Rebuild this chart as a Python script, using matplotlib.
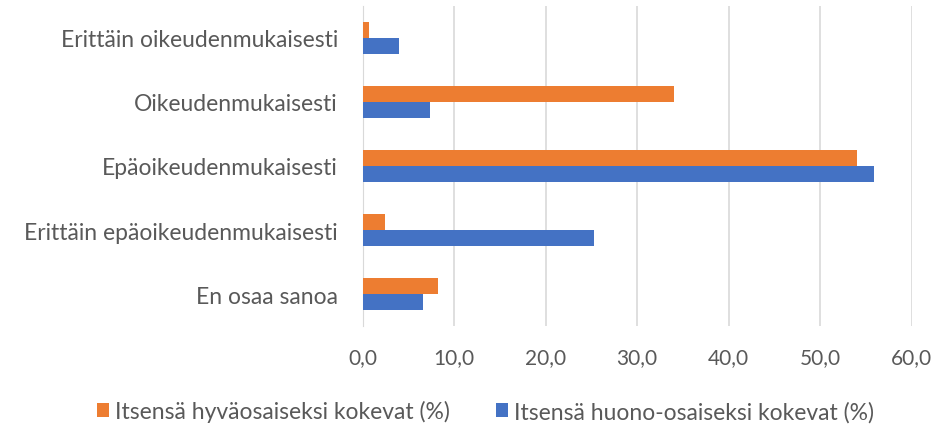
import matplotlib
matplotlib.use('Agg')
import matplotlib.pyplot as plt
import numpy as np

categories = ['Erittäin oikeudenmukaisesti', 'Oikeudenmukaisesti', 'Epäoikeudenmukaisesti',
              'Erittäin epäoikeudenmukaisesti', 'En osaa sanoa']
hyva = [0.7, 34.0, 54.0, 2.4, 8.2]
huono = [4.0, 7.3, 55.9, 25.3, 6.6]
series_names = ['Itsensä hyväosaiseksi kokevat (%)', 'Itsensä huono-osaiseksi kokevat (%)']
xticks = [0, 10, 20, 30, 40, 50, 60]

plt.rcParams['font.family'] = ['Lato', 'DejaVu Sans']
grey = '#595959'

fig = plt.figure(figsize=(9.35, 4.27), dpi=100)
ax = fig.add_axes([0.388, 0.234, 0.587, 0.75])

y = np.arange(len(categories))
h = 0.25
ax.barh(y - h / 2, hyva, height=h, color='#ED7D31', label=series_names[0], zorder=3)
ax.barh(y + h / 2, huono, height=h, color='#4472C4', label=series_names[1], zorder=3)

ax.set_ylim(len(categories) - 0.5, -0.5)
ax.set_xlim(0, 60)
ax.set_yticks(y)
ax.set_yticklabels(categories, fontsize=16.5, color=grey)
ax.set_xticks(xticks)
ax.set_xticklabels([f'{t:.1f}'.replace('.', ',') for t in xticks], fontsize=15, color=grey)
ax.tick_params(axis='both', length=0)
ax.tick_params(axis='x', pad=15)
ax.tick_params(axis='y', pad=18)
ax.grid(axis='x', color='#D9D9D9', linewidth=1.2, zorder=0)
for s in ['top', 'right', 'bottom']:
    ax.spines[s].set_visible(False)
ax.spines['left'].set_color('#D9D9D9')

fig.legend(loc='center', bbox_to_anchor=(0.519, 0.035), ncol=2, frameon=False,
           fontsize=16.5, labelcolor=grey, handlelength=0.55, handleheight=0.55,
           handletextpad=0.25, columnspacing=2.0)

plt.savefig('out.png', dpi=100)
